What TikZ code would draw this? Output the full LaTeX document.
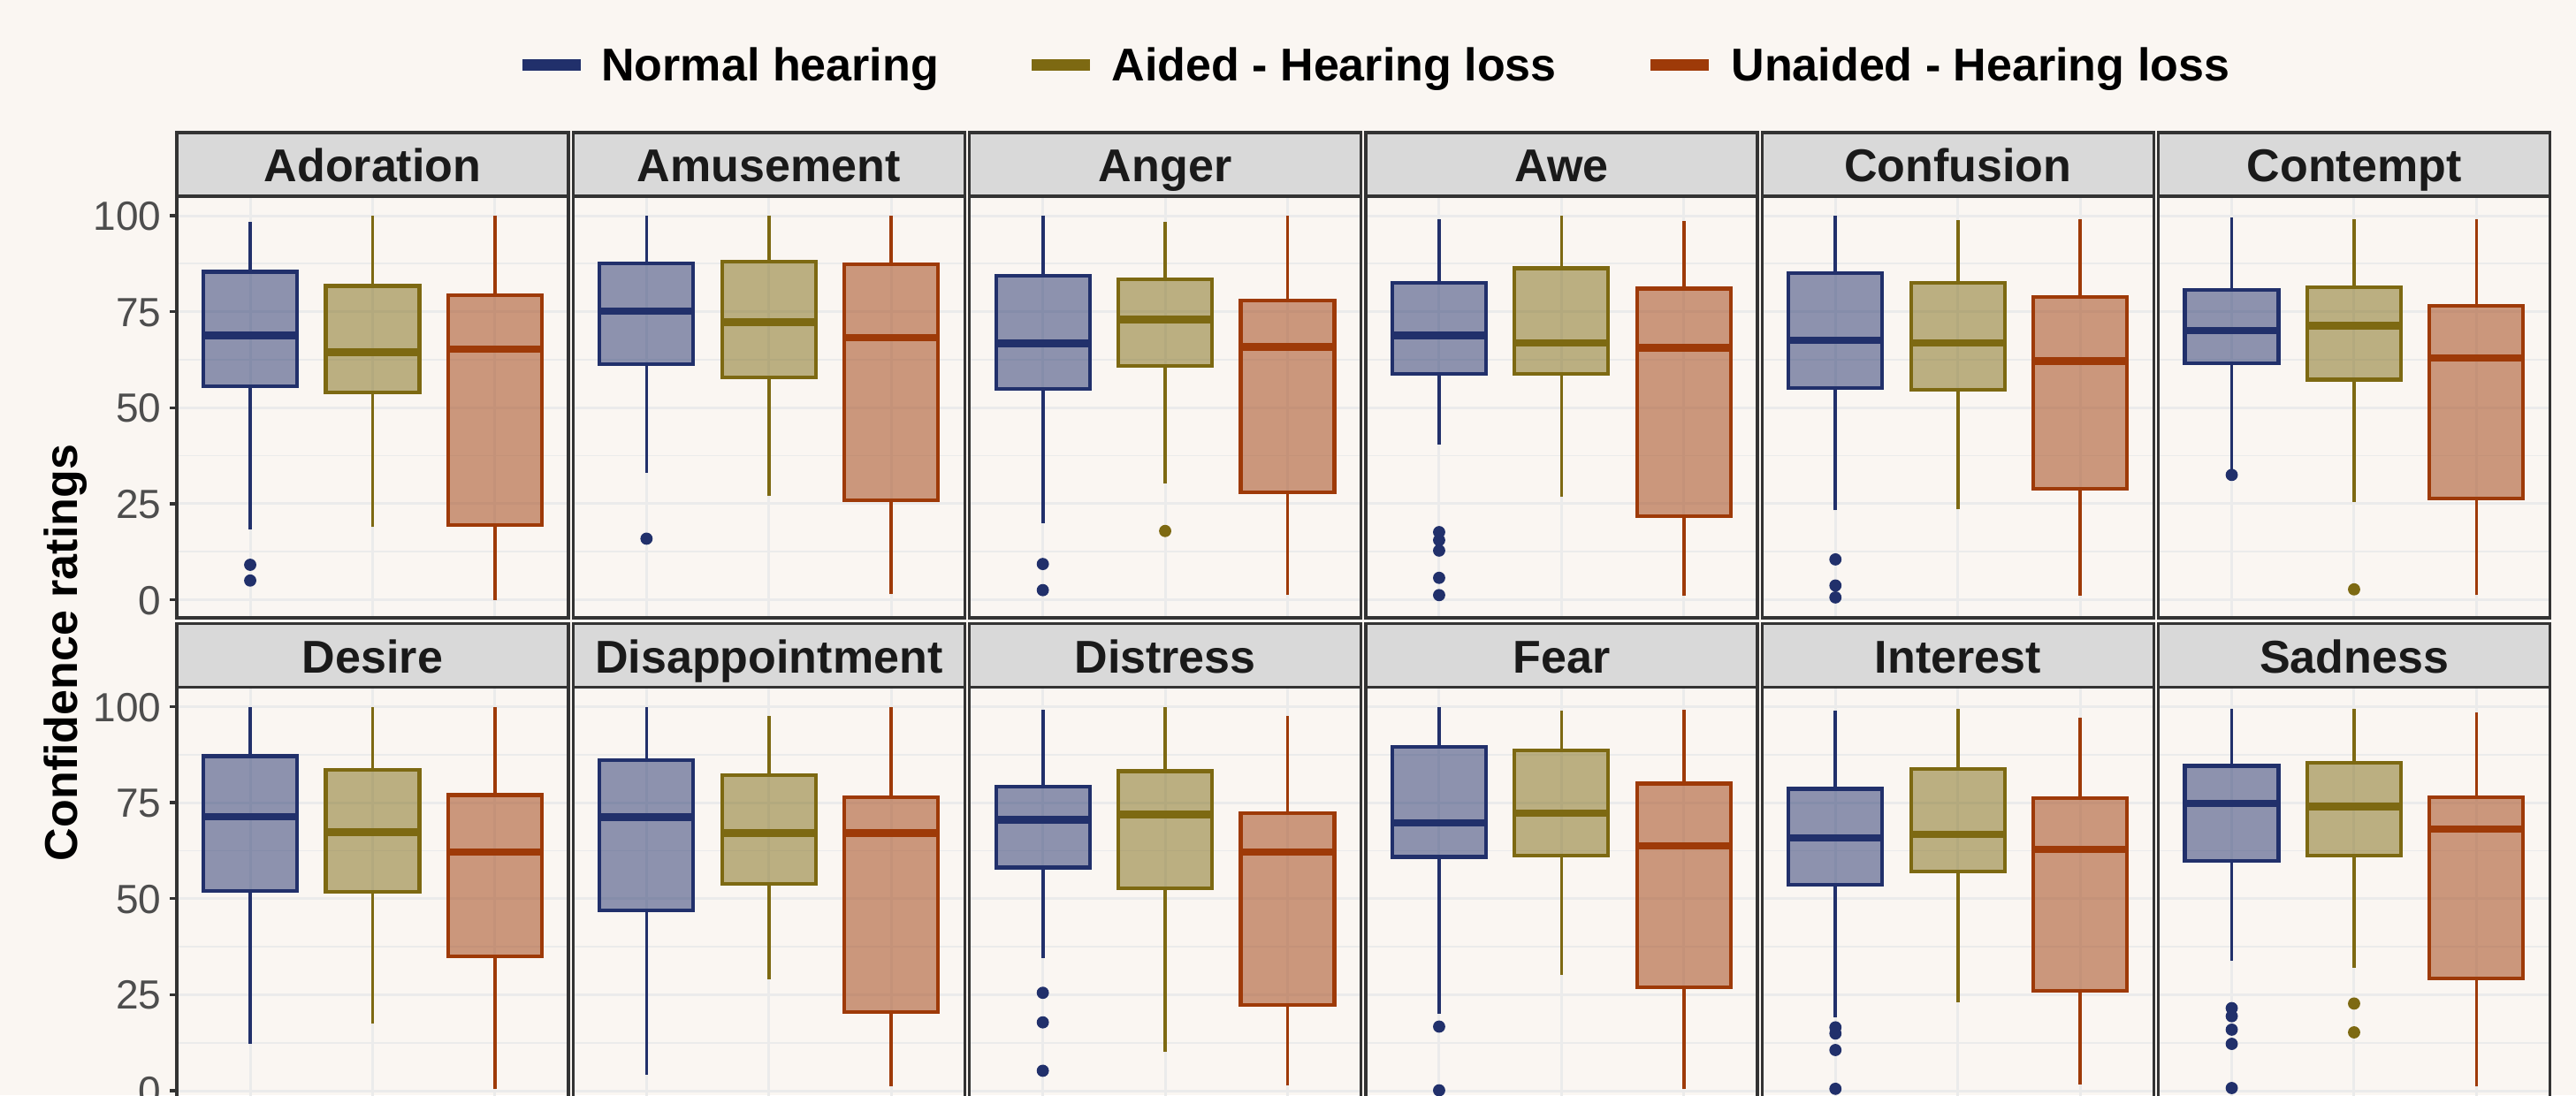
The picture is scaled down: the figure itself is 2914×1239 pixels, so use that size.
\documentclass[tikz,border=0pt]{standalone}
\usepackage{fontspec}
\setmainfont{Liberation Sans}
\usepackage{tikz}
\usetikzlibrary{positioning}

\definecolor{bgc}{RGB}{250,246,242}
\definecolor{gridc}{RGB}{235,235,235}
\definecolor{stripc}{RGB}{217,217,217}
\definecolor{framec}{RGB}{51,51,51}
\definecolor{labc}{RGB}{77,77,77}
\definecolor{titc}{RGB}{26,26,26}
\definecolor{nhc}{RGB}{33,48,107}
\definecolor{ahc}{RGB}{125,105,18}
\definecolor{uhc}{RGB}{158,58,8}

% col, row, group, lower whisker, q1, median, q3, upper whisker
\newcommand{\boxplt}[8]{%
  \pgfmathsetmacro{\cx}{200+448.3*#1+138.4*(#3+0.6)}
  \pgfmathsetmacro{\yz}{678.5+555.5*#2}
  \draw[whisk, g#3] (\cx,{\yz-4.345*#4}) -- (\cx,{\yz-4.345*#5}) (\cx,{\yz-4.345*#7}) -- (\cx,{\yz-4.345*#8});
  \filldraw[boxst, g#3] ({\cx-53},{\yz-4.345*#5}) rectangle ({\cx+53},{\yz-4.345*#7});
  \draw[medst, g#3] ({\cx-53},{\yz-4.345*#6}) -- ({\cx+53},{\yz-4.345*#6});
}
\newcommand{\outlr}[4]{%
  \pgfmathsetmacro{\cx}{200+448.3*#1+138.4*(#3+0.6)}
  \pgfmathsetmacro{\yz}{678.5+555.5*#2}
  \foreach \v in {#4} \fill[g#3] (\cx,{\yz-4.345*\v}) circle (0.62mm);
}

\begin{document}
\begin{tikzpicture}[x=0.1mm, y=-0.1mm,
  g0/.style={draw=nhc, fill=nhc}, g1/.style={draw=ahc, fill=ahc}, g2/.style={draw=uhc, fill=uhc},
  whisk/.style={line width=0.37mm},
  boxst/.style={line width=0.42mm, fill opacity=0.5},
  medst/.style={line width=0.85mm},
  majgrid/.style={draw=gridc, line width=0.3mm},
  mingrid/.style={draw=gridc, line width=0.18mm},
  frame/.style={draw=framec, line width=0.34mm},
  striptxt/.style={inner sep=0, text height=3.7mm, text depth=0mm, text=titc, font=\fontsize{14.8}{16}\selectfont\bfseries},
  ticktxt/.style={inner sep=0, anchor=east, text height=3.3mm, text depth=0mm, text=labc, font=\fontsize{13.1}{15}\selectfont},
  legkey/.style={inner sep=0, minimum width=6.6mm, minimum height=1.3mm},
  legtxt/.style={inner sep=0, text height=3.7mm, text depth=0mm, font=\fontsize{14.8}{16}\selectfont\bfseries}]

\useasboundingbox (0,0) rectangle (2914,1239);
\clip (0,0) rectangle (2914,1239);
\fill[bgc] (0,0) rectangle (2914,1239);

\node[legkey, fill=nhc] (kN) at (624,73.3) {};
\node[legtxt, right=2.2mm of kN] (tN) {Normal hearing};
\node[legkey, fill=ahc, right=10.4mm of tN] (kA) {};
\node[legtxt, right=2.3mm of kA] (tA) {Aided - Hearing loss};
\node[legkey, fill=uhc, right=10.5mm of tA] (kU) {};
\node[legtxt, right=2.4mm of kU] (tU) {Unaided - Hearing loss};

\node[legtxt, rotate=90] (ytitle) at (69.5,738.5) {Confidence ratings};

\foreach \nm [count=\i from 0] in {Adoration,Amusement,Anger,Awe,Confusion,Contempt,Desire,Disappointment,Distress,Fear,Interest,Sadness} {
  \pgfmathtruncatemacro{\pcol}{mod(\i,6)}
  \pgfmathtruncatemacro{\prow}{int(\i/6)}
  \pgfmathsetmacro{\L}{200+448.3*\pcol}
  \pgfmathsetmacro{\T}{150+555.5*\prow}
  \pgfmathsetmacro{\yz}{678.5+555.5*\prow}
  \foreach \g in {12.5,37.5,62.5,87.5} \draw[mingrid] (\L,{\yz-4.345*\g}) -- ({\L+443},{\yz-4.345*\g});
  \foreach \g in {0,25,50,75,100} \draw[majgrid] (\L,{\yz-4.345*\g}) -- ({\L+443},{\yz-4.345*\g});
  \foreach \k in {0,1,2} \draw[majgrid] ({\L+138.4*(\k+0.6)},{\T+72}) -- ({\L+138.4*(\k+0.6)},{\T+549});
  \filldraw[frame, fill=stripc] (\L,\T) rectangle ({\L+443},{\T+72});
  \node[striptxt] (s\i) at ({\L+221.5},{\T+37}) {\nm};
}

\foreach \prow in {0,1} \foreach \v in {0,25,50,75,100} {
  \pgfmathsetmacro{\yt}{678.5+555.5*\prow-4.345*\v}
  \draw[frame] (192,\yt) -- (200,\yt);
  \node[ticktxt] (tk\prow-\v) at (183,\yt) {\v};
}

\boxplt{0}{0}{0}{18.2}{55.5}{68.8}{85.4}{98.4} \outlr{0}{0}{0}{9.1,5.0}
\boxplt{0}{0}{1}{18.9}{54.0}{64.4}{81.7}{100}
\boxplt{0}{0}{2}{0}{19.4}{65.2}{79.2}{100}

\boxplt{1}{0}{0}{33.1}{61.3}{75.1}{87.5}{100} \outlr{1}{0}{0}{15.9}
\boxplt{1}{0}{1}{27.0}{57.8}{72.3}{88.0}{100}
\boxplt{1}{0}{2}{1.4}{25.9}{68.3}{87.3}{100}

\boxplt{2}{0}{0}{20.0}{54.9}{66.7}{84.4}{100} \outlr{2}{0}{0}{9.3,2.5}
\boxplt{2}{0}{1}{30.3}{60.9}{73.0}{83.5}{98.4} \outlr{2}{0}{1}{17.9}
\boxplt{2}{0}{2}{1.3}{27.9}{65.8}{77.9}{100}

\boxplt{3}{0}{0}{40.4}{58.9}{68.8}{82.5}{99.1} \outlr{3}{0}{0}{17.6,15.5,12.8,5.7,1.2}
\boxplt{3}{0}{1}{26.8}{58.9}{66.9}{86.3}{100}
\boxplt{3}{0}{2}{1.0}{21.8}{65.6}{81.0}{98.6}

\boxplt{4}{0}{0}{23.3}{55.2}{67.5}{85.1}{100} \outlr{4}{0}{0}{10.5,3.7,0.6}
\boxplt{4}{0}{1}{23.5}{54.6}{66.9}{82.5}{98.8}
\boxplt{4}{0}{2}{1.0}{28.9}{62.1}{78.9}{99.0}

\boxplt{5}{0}{0}{33.5}{61.6}{70.1}{80.7}{99.5} \outlr{5}{0}{0}{32.5}
\boxplt{5}{0}{1}{25.5}{57.3}{71.4}{81.4}{99.0} \outlr{5}{0}{1}{2.7}
\boxplt{5}{0}{2}{1.2}{26.3}{63.0}{76.5}{99.1}

\boxplt{0}{1}{0}{12.3}{52.0}{71.3}{87.1}{100}
\boxplt{0}{1}{1}{17.4}{51.8}{67.3}{83.6}{100}
\boxplt{0}{1}{2}{0.5}{35.0}{62.1}{77.0}{100}

\boxplt{1}{1}{0}{4.2}{46.9}{71.2}{86.1}{100}
\boxplt{1}{1}{1}{29.0}{53.9}{67.1}{82.2}{97.6}
\boxplt{1}{1}{2}{1.2}{20.4}{67.1}{76.4}{100}

\boxplt{2}{1}{0}{34.6}{58.1}{70.5}{79.2}{99.2} \outlr{2}{1}{0}{25.5,17.8,5.2}
\boxplt{2}{1}{1}{10.1}{52.8}{71.9}{83.2}{100}
\boxplt{2}{1}{2}{1.5}{22.4}{62.1}{72.3}{97.6}

\boxplt{3}{1}{0}{20.0}{60.9}{69.7}{89.5}{100} \outlr{3}{1}{0}{16.7,0.1}
\boxplt{3}{1}{1}{30.2}{61.2}{72.3}{88.7}{98.9}
\boxplt{3}{1}{2}{0.5}{27.0}{63.8}{80.0}{99.2}

\boxplt{4}{1}{0}{19.1}{53.6}{65.8}{78.6}{99.0} \outlr{4}{1}{0}{16.5,14.9,10.6,0.5}
\boxplt{4}{1}{1}{23.1}{57.1}{66.7}{83.8}{99.5}
\boxplt{4}{1}{2}{1.7}{26.0}{62.8}{76.1}{97.2}

\boxplt{5}{1}{0}{33.8}{59.8}{74.8}{84.6}{99.5} \outlr{5}{1}{0}{21.5,19.4,15.9,12.2,0.7}
\boxplt{5}{1}{1}{32.0}{61.3}{74.0}{85.4}{99.5} \outlr{5}{1}{1}{22.7,15.2}
\boxplt{5}{1}{2}{1.1}{29.3}{68.1}{76.5}{98.4}

\foreach \pcol in {0,...,5} \foreach \prow in {0,1}
  \draw[frame] ({200+448.3*\pcol},{222+555.5*\prow}) rectangle ({643+448.3*\pcol},{699+555.5*\prow});
\end{tikzpicture}
\end{document}
